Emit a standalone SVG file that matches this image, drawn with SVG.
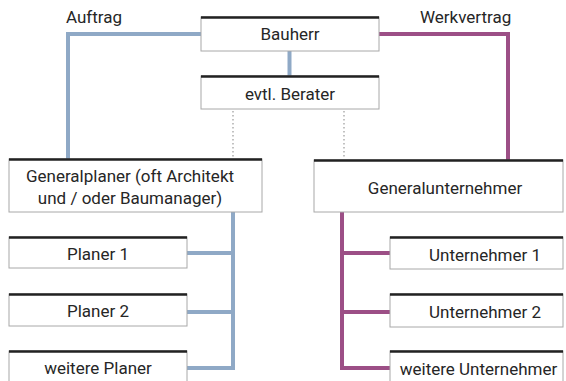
<svg xmlns="http://www.w3.org/2000/svg" width="566" height="381" viewBox="0 0 566 381">
<style>
.box{fill:#fff;stroke:#a8a8a8;stroke-width:1}
.top{stroke:#222;stroke-width:2.5}
.t{font-family:Roboto,"Liberation Sans",Arial,sans-serif;font-size:17px;fill:#262626;text-anchor:middle}
.lbl{font-family:Roboto,"Liberation Sans",Arial,sans-serif;font-size:17px;fill:#262626}
.blue{fill:none;stroke:#8fa9c6;stroke-width:4}
.purple{fill:none;stroke:#9c4f86;stroke-width:4}
.dot{fill:none;stroke:#999;stroke-width:1.2;stroke-dasharray:1.5 2.5}
</style>
<rect width="566" height="381" fill="#fff"/>
<g id="connectors">
<path class="blue" d="M201,34 H68 V159"/>
<path class="blue" d="M289.5,51 V76"/>
<path class="blue" d="M233,212 V370 M187,253 H233 M187,312 H233 M187,368 H235"/>
<path class="purple" d="M379,34 H508 V160"/>
<path class="purple" d="M342,212 V370 M340,253 H390 M340,312 H390 M340,368 H390"/>
<path class="dot" d="M233,111 V158 M344,111 V158"/>
</g>
<g id="label-auftrag"><text class="lbl" x="66" y="22.5">Auftrag</text></g>
<g id="label-werkvertrag"><text class="lbl" x="420" y="23">Werkvertrag</text></g>
<g id="bauherr"><rect class="box" x="201" y="17" width="178" height="34"/><line class="top" x1="201" y1="17.5" x2="379" y2="17.5"/><text class="t" x="290" y="40">Bauherr</text></g>
<g id="berater"><rect class="box" x="201" y="76" width="178" height="33"/><line class="top" x1="201" y1="76.5" x2="379" y2="76.5"/><text class="t" x="290" y="100">evtl. Berater</text></g>
<g id="generalplaner"><rect class="box" x="9" y="159" width="253" height="53"/><line class="top" x1="9" y1="159.5" x2="262" y2="159.5"/><text class="t" x="130" y="182">Generalplaner (oft Architekt</text><text class="t" x="130" y="203.5">und / oder Baumanager)</text></g>
<g id="planer1"><rect class="box" x="9" y="237" width="178" height="31"/><line class="top" x1="9" y1="237.5" x2="187" y2="237.5"/><text class="t" x="98" y="259.5">Planer 1</text></g>
<g id="planer2"><rect class="box" x="9" y="294" width="178" height="32"/><line class="top" x1="9" y1="294.5" x2="187" y2="294.5"/><text class="t" x="98" y="317">Planer 2</text></g>
<g id="weitere-planer"><rect class="box" x="9" y="351" width="178" height="40"/><line class="top" x1="9" y1="351.5" x2="187" y2="351.5"/><text class="t" x="98" y="373.5">weitere Planer</text></g>
<g id="generalunternehmer"><rect class="box" x="314" y="160" width="249" height="52"/><line class="top" x1="314" y1="160.5" x2="563" y2="160.5"/><text class="t" x="445" y="194">Generalunternehmer</text></g>
<g id="unternehmer1"><rect class="box" x="390" y="237" width="173" height="32"/><line class="top" x1="390" y1="237.5" x2="563" y2="237.5"/><text class="t" x="485" y="260.5">Unternehmer 1</text></g>
<g id="unternehmer2"><rect class="box" x="390" y="294" width="173" height="33"/><line class="top" x1="390" y1="294.5" x2="563" y2="294.5"/><text class="t" x="485" y="318">Unternehmer 2</text></g>
<g id="weitere-unternehmer"><rect class="box" x="390" y="351" width="173" height="40"/><line class="top" x1="390" y1="351.5" x2="563" y2="351.5"/><text class="t" x="478.5" y="375">weitere Unternehmer</text></g>
</svg>
